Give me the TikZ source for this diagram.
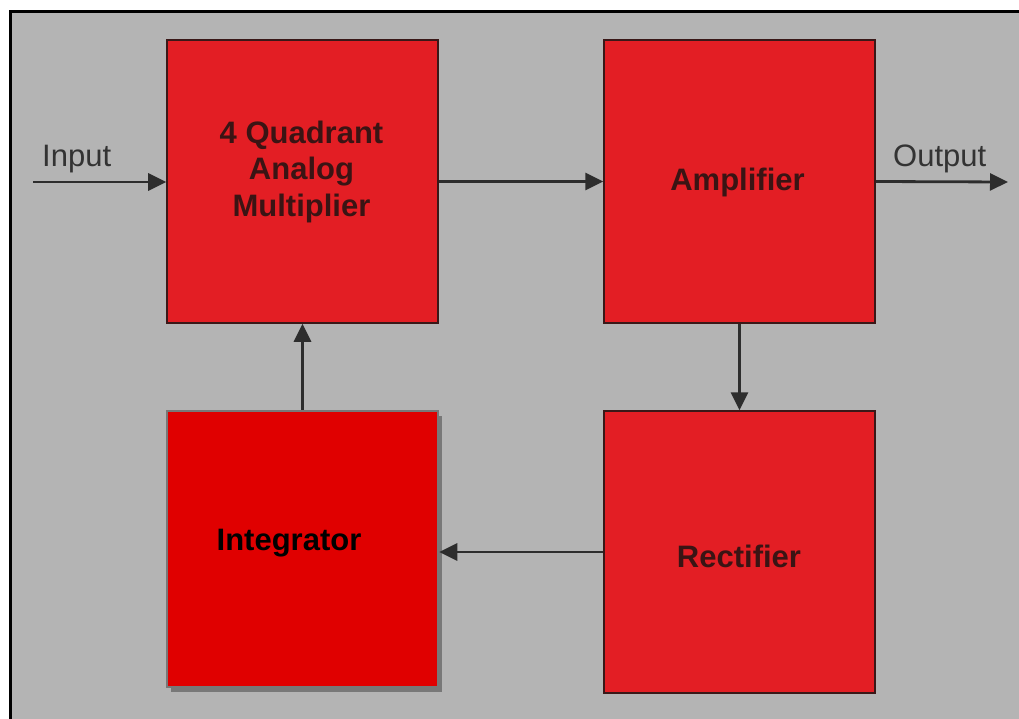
\documentclass[tikz,border=0pt]{standalone}
\usepackage{fontspec}
\setmainfont{Liberation Sans}
\usetikzlibrary{arrows.meta,shadows}
\definecolor{panelgray}{RGB}{180,180,180}
\definecolor{blockred}{RGB}{227,30,36}
\definecolor{integred}{RGB}{224,0,0}
\definecolor{edgedark}{RGB}{58,24,24}
\definecolor{textdark}{RGB}{58,20,20}
\definecolor{wiregray}{RGB}{45,45,45}
\definecolor{shadowgray}{RGB}{120,120,120}
\tikzset{
  block/.style={draw=edgedark,line width=1.5bp,fill=blockred,minimum width=271bp,minimum height=283bp,inner sep=0pt},
  blocktext/.style={font=\bfseries\fontsize{31bp}{36.5bp}\selectfont,text=textdark,align=center,inner sep=0pt},
  portlabel/.style={font=\fontsize{31bp}{35bp}\selectfont,text=black!80,inner sep=0pt,anchor=base west},
  wire/.style={wiregray,line width=2.8bp,->},
}
\begin{document}
\begin{tikzpicture}[x=1bp,y=-1bp,>={Triangle[length=18bp,width=17bp]}]
\useasboundingbox (0,0) rectangle (1019,719);
\clip (0,0) rectangle (1019,719);
%% panel
\draw [line width=3bp,fill=panelgray] (10.5,11.5) rectangle (1040,740);
%% blocks
\node (mult) at (302.5,181.5) [block] {};
  \node (amp) at (739.5,181.5) [block] {};
  \node (rect) at (739.5,552) [block,minimum height=282bp] {};
  \node (integ) at (302.5,549) [block,draw=shadowgray,line width=2.5bp,fill=integred,minimum width=271bp,minimum height=276bp,
    drop shadow={shadow xshift=4bp,shadow yshift=-5bp,fill=shadowgray,opacity=1}] {};
%% block texts
\node (multtxt) at (301.5,171.5) [blocktext] {4 Quadrant\\Analog\\Multiplier};
  \node (amptxt) at (737.5,182) [blocktext] {Amplifier};
  \node (recttxt) at (739,556) [blocktext] {Rectifier};
  \node (integtxt) at (289,543) [blocktext,text=black] {Integrator};
%% ports
\coordinate (in) at (33,182);
  \coordinate (out) at (1008,182);
  \node (inlbl) at (42,167) [portlabel] {Input};
  \node (outlbl) at (893,167) [portlabel] {Output};
%% signal path
\draw [wire] (in) -- (in -| mult.west);
  \draw [wire] (mult.east) -- (amp.west);
  \draw [wire] (amp.east) -- (out);
  \draw [wire] (amp.south) -- (rect.north);
  \draw [wire] (rect.west) -- (rect.west -| integ.east);
  \draw [wire] (integ.north) -- (mult.south);
%
\end{tikzpicture}
\end{document}
